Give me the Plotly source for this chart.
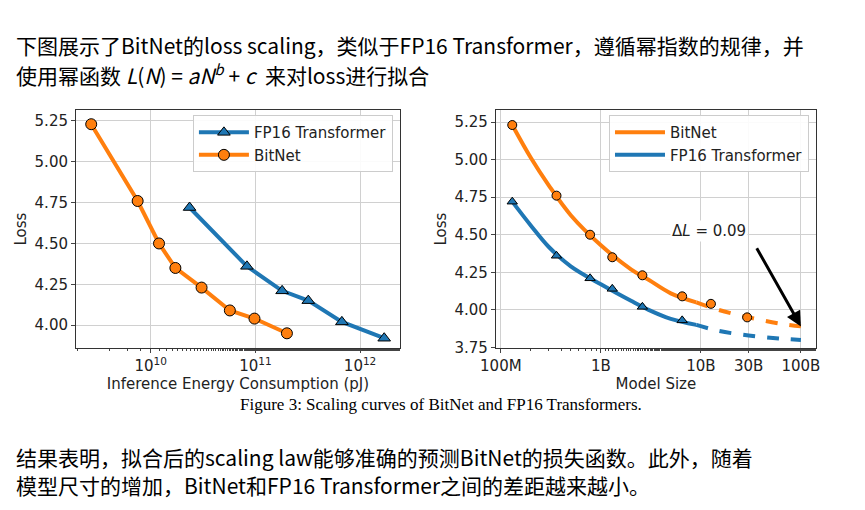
import plotly.graph_objects as go

# left panel: loss vs inference energy (pJ)
bit_energy = [2.7e9, 7.5e9, 1.2e10, 1.72e10, 3.06e10, 5.7e10, 9.8e10, 2.0e11]
bit_loss_e = [5.23, 4.76, 4.50, 4.35, 4.23, 4.09, 4.04, 3.95]
fp_energy = [2.35e10, 8.3e10, 1.8e11, 3.2e11, 6.7e11, 1.7e12]
fp_loss_e = [4.72, 4.36, 4.21, 4.15, 4.02, 3.92]

# right panel: loss vs model size
bit_size = [1.3e8, 3.6e8, 7.8e8, 1.3e9, 2.6e9, 6.5e9, 1.26e10, 2.9e10]
bit_loss = [5.23, 4.76, 4.50, 4.35, 4.23, 4.09, 4.04, 3.95]
fp_size = [1.3e8, 3.6e8, 7.8e8, 1.3e9, 2.6e9, 6.5e9]
fp_loss = [4.72, 4.36, 4.21, 4.14, 4.02, 3.93]

# fitted curves (solid part, dashed extrapolation)
fit_size_solid = [1.3e8, 2e8, 3e8, 5e8, 1e9, 2e9, 3e9, 5e9, 9e9]
bit_fit_solid = [5.23, 5.01, 4.83, 4.63, 4.43, 4.27, 4.20, 4.11, 4.05]
fp_fit_solid = [4.72, 4.56, 4.42, 4.29, 4.17, 4.06, 4.00, 3.94, 3.90]
fit_size_dash = [9e9, 1.5e10, 3e10, 6e10, 1e11]
bit_fit_dash = [4.05, 4.00, 3.95, 3.91, 3.89]
fp_fit_dash = [3.90, 3.86, 3.83, 3.81, 3.80]

size_ticks = [1e8, 1e9, 1e10, 3e10, 1e11]
size_labels = ["100M", "1B", "10B", "30B", "100B"]

ORANGE = "#ff7f0e"
BLUE = "#1f77b4"
FONT = "DejaVu Sans"

fig = go.Figure()

fig.add_trace(go.Scatter(
    x=fp_energy, y=fp_loss_e, mode="lines+markers", name="FP16 Transformer",
    line=dict(color=BLUE, width=4),
    marker=dict(symbol="triangle-up", size=11, color=BLUE, line=dict(color="black", width=1)),
    xaxis="x", yaxis="y", legend="legend",
))
fig.add_trace(go.Scatter(
    x=bit_energy, y=bit_loss_e, mode="lines+markers", name="BitNet",
    line=dict(color=ORANGE, width=4),
    marker=dict(symbol="circle", size=11, color=ORANGE, line=dict(color="black", width=1)),
    xaxis="x", yaxis="y", legend="legend",
))

# right panel
fig.add_trace(go.Scatter(
    x=fit_size_solid, y=bit_fit_solid, mode="lines", name="BitNet", line_shape="spline",
    line=dict(color=ORANGE, width=4), xaxis="x2", yaxis="y2", legend="legend2",
))
fig.add_trace(go.Scatter(
    x=fit_size_solid, y=fp_fit_solid, mode="lines", name="FP16 Transformer", line_shape="spline",
    line=dict(color=BLUE, width=4), xaxis="x2", yaxis="y2", legend="legend2",
))
fig.add_trace(go.Scatter(
    x=fit_size_dash, y=bit_fit_dash, mode="lines", line_shape="spline", showlegend=False,
    line=dict(color=ORANGE, width=4, dash="dash"), xaxis="x2", yaxis="y2",
))
fig.add_trace(go.Scatter(
    x=fit_size_dash, y=fp_fit_dash, mode="lines", line_shape="spline", showlegend=False,
    line=dict(color=BLUE, width=4, dash="dash"), xaxis="x2", yaxis="y2",
))
fig.add_trace(go.Scatter(
    x=bit_size, y=bit_loss, mode="markers", showlegend=False,
    marker=dict(symbol="circle", size=9, color=ORANGE, line=dict(color="black", width=1)),
    xaxis="x2", yaxis="y2",
))
fig.add_trace(go.Scatter(
    x=fp_size, y=fp_loss, mode="markers", showlegend=False,
    marker=dict(symbol="triangle-up", size=9, color=BLUE, line=dict(color="black", width=1)),
    xaxis="x2", yaxis="y2",
))

axis_common = dict(
    showline=True, linecolor="#333", linewidth=1, mirror=True, automargin=False,
    showgrid=True, gridcolor="#d0d0d0", ticks="outside", ticklen=4,
    tickfont=dict(size=15, family=FONT, color="#222"), zeroline=False,
)
minor = dict(ticks="outside", ticklen=2, showgrid=False)

fig.update_layout(
    width=865, height=510,
    paper_bgcolor="white", plot_bgcolor="white",
    margin=dict(l=0, r=0, t=0, b=0),
    font=dict(family=FONT, color="#222"),
    xaxis=dict(axis_common, type="log", domain=[0.0786, 0.453], range=[9.286, 12.38],
               tickvals=[1e10, 1e11, 1e12],
               ticktext=["10<sup>10</sup>", "10<sup>11</sup>", "10<sup>12</sup>"],
               minor=minor,
               title=dict(text="Inference Energy Consumption (pJ)", font=dict(size=15), standoff=2)),
    yaxis=dict(axis_common, domain=[0.333, 0.8], range=[3.859, 5.317],
               tickvals=[4.0, 4.25, 4.5, 4.75, 5.0, 5.25], tickformat=".2f",
               title=dict(text="Loss", font=dict(size=15), standoff=4)),
    xaxis2=dict(axis_common, type="log", domain=[0.564, 0.934], range=[7.95, 11.15],
                tickvals=size_ticks, ticktext=size_labels, minor=minor, anchor="y2",
                title=dict(text="Model Size", font=dict(size=15), standoff=2)),
    yaxis2=dict(axis_common, domain=[0.333, 0.8], range=[3.745, 5.33], anchor="x2",
                tickvals=[3.75, 4.0, 4.25, 4.5, 4.75, 5.0, 5.25], tickformat=".2f",
                title=dict(text="Loss", font=dict(size=15), standoff=4)),
    legend=dict(x=0.445, y=0.79, xanchor="right", yanchor="top",
                bgcolor="rgba(255,255,255,0.9)", bordercolor="#ccc", borderwidth=1,
                font=dict(size=15), tracegroupgap=0, itemwidth=50),
    legend2=dict(x=0.926, y=0.79, xanchor="right", yanchor="top",
                 bgcolor="rgba(255,255,255,0.9)", bordercolor="#ccc", borderwidth=1,
                 font=dict(size=15), tracegroupgap=0, itemwidth=50),
)

fig.add_annotation(
    xref="x2", yref="y2", x=11, y=3.89,
    ax=10.55, ay=4.42, axref="x2", ayref="y2",
    showarrow=True, arrowhead=2, arrowsize=1, arrowwidth=3, arrowcolor="black",
    text="",
)
fig.add_annotation(xref="paper", yref="paper", x=740 / 865, y=1 - 223 / 510,
                   text="Δ<i>L</i> = 0.09", showarrow=False, font=dict(size=15),
                   bgcolor="white")

cjk = "Noto Sans CJK SC"
fig.add_annotation(xref="paper", yref="paper", x=6 / 865, y=1 - 20 / 510, xanchor="left",
                   text="下图展示了BitNet的loss scaling，类似于FP16 Transformer，遵循幂指数的规律，并",
                   showarrow=False, font=dict(size=21, family=cjk, color="black"))
fig.add_annotation(xref="paper", yref="paper", x=6 / 865, y=1 - 48 / 510, xanchor="left",
                   text="使用幂函数 <i>L</i>(<i>N</i>) = <i>aN<sup>b</sup></i> + <i>c</i>  来对loss进行拟合",
                   showarrow=False, font=dict(size=21, family=cjk, color="black"))
fig.add_annotation(xref="paper", yref="paper", x=0.5, y=1 - 408 / 510,
                   text="Figure 3: Scaling curves of BitNet and FP16 Transformers.",
                   showarrow=False, font=dict(size=17, family="Liberation Serif", color="black"))
fig.add_annotation(xref="paper", yref="paper", x=6 / 865, y=1 - 466 / 510, xanchor="left",
                   text="结果表明，拟合后的scaling law能够准确的预测BitNet的损失函数。此外，随着",
                   showarrow=False, font=dict(size=21, family=cjk, color="black"))
fig.add_annotation(xref="paper", yref="paper", x=6 / 865, y=1 - 494 / 510, xanchor="left",
                   text="模型尺寸的增加，BitNet和FP16 Transformer之间的差距越来越小。",
                   showarrow=False, font=dict(size=21, family=cjk, color="black"))

fig.write_html("out.html")
